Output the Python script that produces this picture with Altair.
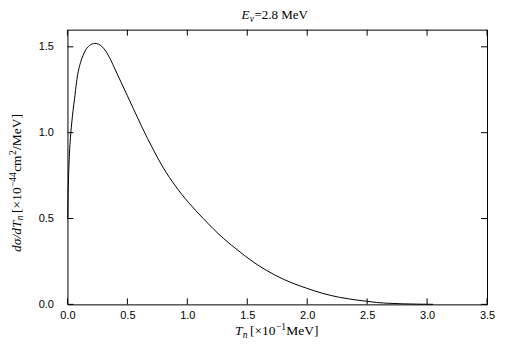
import altair as alt
import pandas as pd

# Curve
tn = [0.002, 0.005, 0.008, 0.012, 0.017, 0.025, 0.035, 0.047, 0.06, 0.075, 0.09,
      0.11, 0.13, 0.155, 0.185, 0.228, 0.26, 0.29, 0.32, 0.36, 0.40, 0.45,
      0.50, 0.55, 0.62, 0.717, 0.8, 0.9, 1.008, 1.133, 1.3, 1.44, 1.52, 1.66,
      1.8, 1.995, 2.13, 2.27, 2.495, 2.58, 2.69, 2.8, 2.95, 3.05]
dsig = [0.50, 0.62, 0.71, 0.80, 0.88, 0.97, 1.05, 1.13, 1.20, 1.29, 1.355,
        1.41, 1.45, 1.485, 1.508, 1.52, 1.515, 1.50, 1.475, 1.425, 1.365, 1.29,
        1.215, 1.14, 1.035, 0.90, 0.795, 0.69, 0.595, 0.50, 0.385, 0.305, 0.262, 0.198,
        0.147, 0.094, 0.064, 0.041, 0.018, 0.011, 0.006, 0.003, 0.001, 0.0005]

x_ticks = [0.0, 0.5, 1.0, 1.5, 2.0, 2.5, 3.0, 3.5]
y_ticks = [0.0, 0.5, 1.0, 1.5]

W, H = 420, 275
SERIF = "Liberation Serif"
SANS = "Liberation Sans"

xscale = alt.Scale(domain=[0, 3.5], nice=False, zero=False)
yscale = alt.Scale(domain=[0, 1.6], nice=False, zero=False)

curve_df = pd.DataFrame({"x": tn, "y": dsig})
xt_df = pd.DataFrame({"x": x_ticks})
yt_df = pd.DataFrame({"y": y_ticks})

curve = alt.Chart(curve_df).mark_line(color="black", strokeWidth=1, interpolate="monotone").encode(
    x=alt.X("x:Q", scale=xscale,
            axis=alt.Axis(values=x_ticks, format=".1f", title=None, labelFont=SANS,
                          labelFontSize=11, labelColor="black", labelPadding=5,
                          labelFlush=False, ticks=False, domain=False, grid=False)),
    y=alt.Y("y:Q", scale=yscale,
            axis=alt.Axis(values=y_ticks, format=".1f", title=None, labelFont=SANS,
                          labelFontSize=11, labelColor="black", labelPadding=14,
                          ticks=False, domain=False, grid=False)),
)

tick_bottom = alt.Chart(xt_df).mark_rule(color="black", strokeWidth=1).encode(
    x=alt.X("x:Q", scale=xscale), y=alt.value(H), y2=alt.value(H - 6))
tick_top = alt.Chart(xt_df).mark_rule(color="black", strokeWidth=1).encode(
    x=alt.X("x:Q", scale=xscale), y=alt.value(0), y2=alt.value(6))
tick_left = alt.Chart(yt_df).mark_rule(color="black", strokeWidth=1).encode(
    y=alt.Y("y:Q", scale=yscale), x=alt.value(0), x2=alt.value(6))
tick_right = alt.Chart(yt_df).mark_rule(color="black", strokeWidth=1).encode(
    y=alt.Y("y:Q", scale=yscale), x=alt.value(W), x2=alt.value(W - 6))

one = pd.DataFrame({"a": [0]})

# approximate Times / Liberation Serif advance widths (em)
WID = {'[': .333, ']': .333, '×': .564, '0': .5, '1': .5, '2': .5, '4': .5, '8': .5,
       '.': .25, ' ': .25, '=': .564, 'M': .889, 'e': .444, 'V': .722, '/': .278,
       'c': .444, 'm': .778, '−': .564, 'd': .5, 'σ': .5, 'T': .556, 'n': .5,
       'E': .611, 'ν': .444}


def tw(text, size):
    return sum(WID.get(c, .5) for c in text) * size


def label(text, x, y, size, italic=False, angle=0):
    return alt.Chart(one).mark_text(
        text=text, font=SERIF, fontSize=size, fontStyle="italic" if italic else "normal",
        align="left", baseline="alphabetic", angle=angle, color="black",
    ).encode(x=alt.value(x), y=alt.value(y))


def chain(pieces, start, base, center=None, vertical=False):
    """pieces: (text, size, italic, shift, gap_before). shift: baseline shift
    (positive = raised)."""
    total = sum(tw(t, s) + g for t, s, it, sh, g in pieces)
    if center is not None:
        start = center + total / 2 if vertical else center - total / 2
    out = []
    pos = start
    for t, s, it, sh, g in pieces:
        if vertical:
            pos -= g
            out.append(label(t, base - sh, pos, s, it, angle=270))
            pos -= tw(t, s)
        else:
            pos += g
            out.append(label(t, pos, base - sh, s, it))
            pos += tw(t, s)
    return out


MAIN = 13.5
SUB = 9.5

title_parts = chain([
    ("E", 13, True, 0, 0),
    ("ν", SUB, True, -2.5, 0.3),
    ("=2.8 MeV", 13, False, 0, 0.5),
], 0, -10.5, center=207.5)

xtitle_parts = chain([
    ("T", MAIN, True, 0, 0),
    ("n", SUB, True, -2.5, 0.3),
    ("[×10", MAIN, False, 0, 2.5),
    ("−1", SUB, False, 5, 0.3),
    ("MeV]", MAIN, False, 0, 0.3),
], 0, 306, center=209.5)

ytitle_parts = chain([
    ("dσ/dT", MAIN, True, 0, 0),
    ("n", SUB, True, -2.5, 0.3),
    ("[×10", MAIN, False, 0, 2.5),
    ("−44", SUB, False, 5, 0.3),
    ("cm", MAIN, False, 0, 0.3),
    ("2", SUB, False, 5, 0.3),
    ("/MeV]", MAIN, False, 0, 0.3),
], 0, -46.5, center=153.5, vertical=True)

chart = alt.layer(
    curve, tick_bottom, tick_top, tick_left, tick_right,
    *title_parts, *xtitle_parts, *ytitle_parts,
).properties(
    width=W, height=H,
    autosize=alt.AutoSizeParams(type="none"),
    padding={"left": 59.5, "top": 21.5, "right": 10, "bottom": 48},
    background="white",
).configure_view(stroke="black", strokeWidth=1)

chart.save("out.html", embed_options={"renderer": "svg", "actions": False})
